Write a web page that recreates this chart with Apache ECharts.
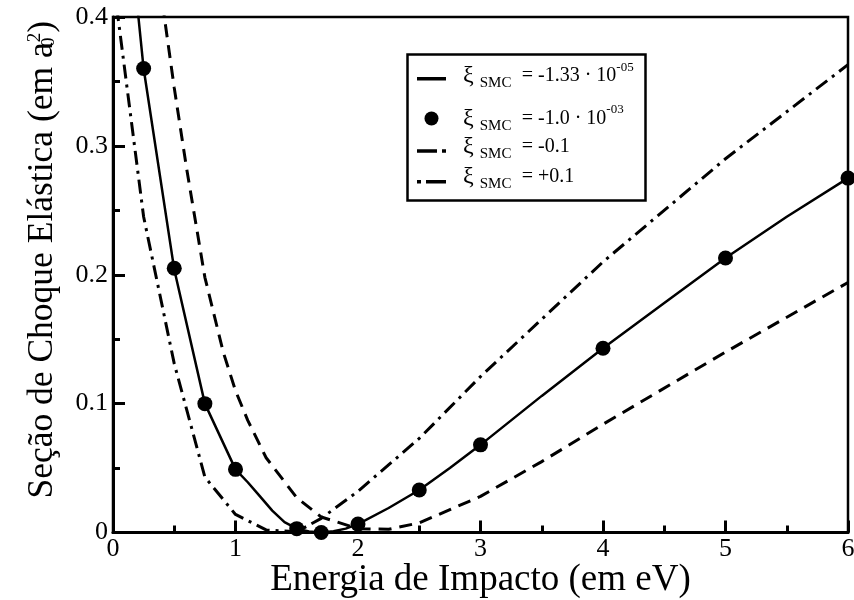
<!DOCTYPE html>
<html>
<head>
<meta charset="utf-8">
<script src="https://cdn.jsdelivr.net/npm/echarts@6/dist/echarts.min.js"></script>
<style>
  html, body { margin: 0; padding: 0; background: #fff; }
  #chart { width: 854px; height: 600px; }
</style>
</head>
<body>
<div id="chart"></div>
<script>
// Impact energy (eV) and elastic cross section (a0^2) for each xi_SMC value
const solidEnergy = [0.2, 0.25, 0.5, 0.75, 1.0, 1.1, 1.2, 1.3, 1.4, 1.5, 1.6, 1.7, 1.8, 1.9, 2.0, 2.25, 2.5, 2.75, 3.0, 3.5, 4.0, 4.5, 5.0, 5.5, 6.0];
const solidSigma  = [0.407, 0.36, 0.204, 0.100, 0.049, 0.039, 0.028, 0.017, 0.008, 0.003, 0.0008, 0.0, 0.001, 0.003, 0.0065, 0.019, 0.033, 0.050, 0.068, 0.106, 0.143, 0.178, 0.213, 0.245, 0.275];

const dotEnergy = [0.25, 0.5, 0.75, 1.0, 1.5, 1.7, 2.0, 2.5, 3.0, 4.0, 5.0, 6.0];
const dotSigma  = [0.36, 0.205, 0.100, 0.049, 0.003, 0.0, 0.0065, 0.033, 0.068, 0.143, 0.213, 0.275];

const minusEnergy = [0.0, 0.25, 0.5, 0.75, 1.0, 1.25, 1.5, 1.7, 2.0, 2.5, 3.0, 4.0, 5.0, 6.0];
const minusSigma  = [0.43, 0.245, 0.131, 0.043, 0.014, 0.002, 0.0005, 0.011, 0.032, 0.073, 0.121, 0.21, 0.29, 0.363];

const plusEnergy = [0.25, 0.4, 0.5, 0.6, 0.75, 0.9, 1.0, 1.1, 1.25, 1.5, 1.7, 2.0, 2.25, 2.5, 3.0, 3.5, 4.0, 5.0, 6.0];
const plusSigma  = [0.54, 0.413, 0.345, 0.283, 0.198, 0.140, 0.110, 0.087, 0.058, 0.027, 0.012, 0.003, 0.0025, 0.0075, 0.028, 0.055, 0.084, 0.140, 0.194];

const seriesNames = ['xi = -1.33e-05', 'xi = -1.0e-03', 'xi = -0.1', 'xi = +0.1'];
const legendValues = ['= -1.33 · 10', '= -1.0 · 10', '= -0.1', '= +0.1'];
const legendExponents = ['-05', '-03', '', ''];

const xTitle = 'Energia de Impacto (em eV)';
const yTitle = 'Seção de Choque Elástica (em a';

const serif = 'Liberation Serif';

function pairs(xs, ys) {
  return xs.map((x, i) => [x, ys[i]]);
}

// Legend icons. A hair-sized square above each bar pushes the bar a little
// below the text middle (the icon is centred on its bounding box).
function barIcon(segments, drop) {
  let p = 'path://M0,' + (-2 * drop) + 'h0.01v0.01h-0.01Z';
  segments.forEach(([a, b]) => { p += ' M' + a + ',0H' + b + 'V3.5H' + a + 'Z'; });
  return p;
}
const legendIcons = [
  barIcon([[0, 29]], 2.8),            // solid
  'circle',                            // dots
  barIcon([[0, 20], [25, 29]], 4),     // long dash + dot
  barIcon([[0, 4], [9, 29]], 4.7)      // dot + long dash
];
// vertical middle of each legend row's text
const legendTextY = [76, 118.5, 150, 180];

function legendText(name) {
  const i = seriesNames.indexOf(name);
  let s = '{xi|ξ}{sub|SMC}{m|' + legendValues[i] + '}';
  if (legendExponents[i]) s += '{sup|' + legendExponents[i] + '}';
  return s;
}

const legendRich = {
  xi:  { fontFamily: serif, fontSize: 24, lineHeight: 30, padding: [0, 6, 0, 12], color: '#000' },
  sub: { fontFamily: serif, fontSize: 15, lineHeight: 12, width: 42, verticalAlign: 'bottom', color: '#000' },
  m:   { fontFamily: serif, fontSize: 20, lineHeight: 30, color: '#000' },
  sup: { fontFamily: serif, fontSize: 13, lineHeight: 12, verticalAlign: 'top', color: '#000' }
};

const legends = seriesNames.map((name, i) => ({
  orient: 'vertical',
  left: legendIcons[i] === 'circle' ? 424.5 : 417,
  top: legendTextY[i] - 15,
  padding: 0,
  itemWidth: 29,
  itemHeight: 14,
  selectedMode: false,
  formatter: legendText,
  textStyle: { fontFamily: serif, color: '#000', rich: legendRich },
  data: [{ name: name, icon: legendIcons[i] }]
}));

const axisFont = { fontFamily: serif, fontSize: 26, color: '#000' };

const chart = echarts.init(document.getElementById('chart'), null, { renderer: 'canvas' });

chart.setOption({
  backgroundColor: '#fff',
  animation: false,
  grid: {
    left: 113, right: 6, top: 17, bottom: 67.5,
    containLabel: false, outerBoundsMode: 'none',
    show: true, borderColor: '#000', borderWidth: 2.5, backgroundColor: 'transparent'
  },
  xAxis: {
    type: 'value', min: 0, max: 6, interval: 1,
    name: xTitle, nameLocation: 'middle', nameGap: 29, nameMoveOverlap: false,
    nameTextStyle: { fontFamily: serif, fontSize: 37, color: '#000' },
    axisLine: { lineStyle: { color: '#000', width: 3 } },
    axisTick: { inside: true, length: 12, lineStyle: { color: '#000', width: 3 } },
    minorTick: { show: true, splitNumber: 2, length: 7, lineStyle: { color: '#000', width: 3 } },
    splitLine: { show: false },
    axisLabel: Object.assign({ margin: 4 }, axisFont)
  },
  yAxis: {
    type: 'value', min: 0, max: 0.4, interval: 0.1,
    name: '{t|' + yTitle + '}{s|0}{p|2}{t|)}', nameLocation: 'middle', nameGap: 54, nameMoveOverlap: false,
    nameTextStyle: {
      padding: [0, 0, 0, 30],
      rich: {
        t: { fontFamily: serif, fontSize: 35.5, lineHeight: 33, color: '#000' },
        s: { fontFamily: serif, fontSize: 19, lineHeight: 14, width: 0, verticalAlign: 'bottom', color: '#000' },
        p: { fontFamily: serif, fontSize: 19, lineHeight: 14, verticalAlign: 'top', color: '#000' }
      }
    },
    axisLine: { lineStyle: { color: '#000', width: 3 } },
    axisTick: { inside: true, length: 12, lineStyle: { color: '#000', width: 3 } },
    minorTick: { show: true, splitNumber: 2, length: 7, lineStyle: { color: '#000', width: 3 } },
    splitLine: { show: false },
    axisLabel: Object.assign({
      margin: 5,
      formatter: v => (v === 0 ? '0' : v.toFixed(1))
    }, axisFont)
  },
  legend: legends,
  graphic: [{
    type: 'rect',
    shape: { x: 407.5, y: 54.5, width: 238, height: 146 },
    style: { fill: 'transparent', stroke: '#000', lineWidth: 2.5 },
    z: 10
  }],
  series: [
    {
      name: seriesNames[0], type: 'line', data: pairs(solidEnergy, solidSigma),
      symbol: 'none', color: '#000', clip: true,
      lineStyle: { color: '#000', width: 2.5, type: 'solid' }
    },
    {
      name: seriesNames[1], type: 'scatter', data: pairs(dotEnergy, dotSigma),
      symbol: 'circle', symbolSize: 15, z: 5,
      itemStyle: { color: '#000', opacity: 1 }
    },
    {
      name: seriesNames[2], type: 'line', data: pairs(minusEnergy, minusSigma),
      symbol: 'none', color: '#000', clip: true,
      lineStyle: { color: '#000', width: 3, type: [14, 6, 3, 6] }
    },
    {
      name: seriesNames[3], type: 'line', data: pairs(plusEnergy, plusSigma),
      symbol: 'none', color: '#000', clip: true,
      lineStyle: { color: '#000', width: 3, type: [13, 8] }
    }
  ]
});
</script>
</body>
</html>
